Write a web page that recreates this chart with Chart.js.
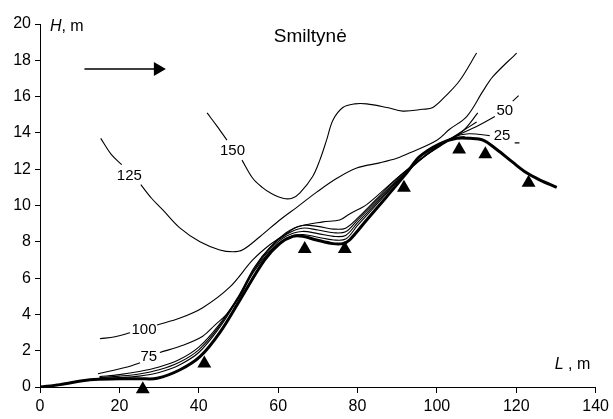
<!DOCTYPE html>
<html>
<head>
<meta charset="utf-8">
<script src="https://cdn.jsdelivr.net/npm/chart.js@4.4.1/dist/chart.umd.min.js"></script>
<style>
    body { margin: 0; background: #fff; }
    #wrap { width: 613px; height: 419px; }
</style>
</head>
<body>
<div id="wrap"><canvas id="duneChart"></canvas></div>
<script>
// Dune profile (thick line), L and H in metres
const profileL = [0, 5, 12.6, 20, 25.2, 29.5, 35.3, 40.3, 45.3, 50.4, 56.6, 60.4, 63.7, 66.2, 69.7, 73.8, 76.3, 78, 82.3, 87.4, 92.4, 95.7, 100.7, 105, 108.3, 111.6, 115, 119, 122.6, 126, 130.2];
const profileH = [0, 0.13, 0.4, 0.45, 0.46, 0.48, 0.95, 1.67, 3.0, 4.8, 7.0, 7.9, 8.3, 8.3, 8.1, 7.9, 7.9, 8.1, 9.2, 10.5, 11.8, 12.7, 13.4, 13.7, 13.7, 13.6, 13.1, 12.4, 11.8, 11.4, 11.0];

// Contour lines (null = break for the label)
const c150L = [42.1, 44.5, 47.1, 48.5, 50.9, 53.6, 56, 58, 61.2, 63.5, 65.5, 68.7, 70.5, 72.2, 73.8, 76.3, 79.3, 82.3, 87.4, 91.4, 96.4, 99, 102.5, 105.8, 110];
const c150H = [15.1, 14.4, 13.6, null, 12.5, 11.5, 11.0, 10.7, 10.4, 10.4, 10.7, 11.6, 12.5, 13.6, 14.7, 15.4, 15.6, 15.6, 15.4, 15.2, 15.3, 15.4, 16.1, 16.9, 18.4];

const c125L = [15.3, 18, 20.6, 22.5, 25.4, 28.1, 31, 35.3, 40.3, 45.3, 48.6, 51.1, 55.4, 60.4, 64.7, 69.8, 74.8, 79.8, 85.6, 89.9, 93.2, 100, 103.2, 107.5, 111.6, 114.1, 120.1];
const c125H = [13.7, 12.8, 12.25, null, 11.15, 10.4, 9.74, 8.75, 8.0, 7.55, 7.45, 7.56, 8.28, 9.2, 9.9, 10.75, 11.5, 12.07, 12.35, 12.6, 12.9, 13.6, 14.2, 14.9, 16.3, 17.1, 18.4];

const c100L = [15.1, 18.9, 22.7, 26, 29.5, 35.3, 41, 47.8, 53.6, 57.9, 61.7, 65, 71.3, 75.5, 78.1, 82.3, 88.1, 93.2, 98.2, 103.2, 107, 110.3];
const c100H = [2.66, 2.77, 2.99, null, 3.42, 3.8, 4.37, 5.5, 7.0, 7.84, 8.39, 8.83, 9.1, 9.2, 9.55, 10.05, 11.15, 12.1, 12.9, 13.6, 14.2, 15.1];

const c75L = [14.6, 18, 22, 25.2, 27.5, 30.2, 36, 41, 44, 47, 50.4, 54, 58, 62, 66, 70, 74, 77, 80, 85, 90, 95, 100, 105, 110];
const c75H = [0.73, 0.9, 1.1, 1.34, null, 1.9, 2.3, 2.8, 3.4, 4.0, 5.0, 6.5, 7.7, 8.5, 8.9, 8.85, 8.7, 8.75, 9.3, 10.4, 11.5, 12.4, 13.2, 13.9, 14.6];

const c50L = [15, 20, 25, 30, 35, 40, 45, 50, 54, 58, 62, 66, 70, 74, 77, 80, 85, 90, 95, 100, 105, 110, 114.6, 117, 119.1, 120.6];
const c50H = [0.57, 0.68, 0.85, 1.1, 1.5, 2.2, 3.4, 5.0, 6.6, 7.7, 8.4, 8.75, 8.65, 8.5, 8.55, 9.2, 10.3, 11.4, 12.4, 13.2, 13.85, 14.35, 14.9, null, 15.75, 16.05];

const c25L = [15, 20, 25, 30, 35, 40, 45, 50, 54, 58, 62, 66, 70, 74, 77, 80, 85, 90, 95, 100, 104, 108, 113.3, 116, 119.6, 120.8];
const c25H = [0.52, 0.6, 0.72, 0.95, 1.35, 2.05, 3.3, 4.95, 6.5, 7.6, 8.3, 8.57, 8.45, 8.3, 8.35, 9.05, 10.2, 11.35, 12.4, 13.25, 13.75, 13.95, 13.85, null, 13.45, 13.45];

const c10L = [15, 20, 25, 30, 35, 40, 45, 50, 54, 58, 62, 66, 70, 74, 77, 80, 85, 90, 95, 100, 104, 107];
const c10H = [0.48, 0.52, 0.6, 0.8, 1.2, 1.9, 3.2, 4.9, 6.4, 7.5, 8.2, 8.4, 8.25, 8.1, 8.15, 8.9, 10.1, 11.3, 12.35, 13.2, 13.7, 13.8];

// Survey marks (triangles)
const markL = [25.9, 41.4, 66.7, 76.8, 91.7, 105.6, 112.2, 123.1];
const markH = [-0.13, 1.3, 7.6, 7.6, 10.98, 13.09, 12.82, 11.26];

// Wind arrow
const arrowL = [11.2, 29.7];
const arrowH = [17.52, 17.52];

// Contour labels
const labelText = ["150", "125", "100", "75", "50", "25"];
const labelL = [48.5, 22.5, 26.2, 27.4, 117.1, 116.4];
const labelH = [12.99, 11.64, 3.14, 1.64, 15.22, 13.85];

const FONT = "'Liberation Sans', Arial, sans-serif";

function pts(L, H) {
    return L.map((x, i) => ({ x: x, y: H[i] }));
}

function contour(L, H, width) {
    return {
        data: pts(L, H),
        borderColor: "#000",
        borderWidth: width || 1.1,
        pointRadius: 0,
        fill: false,
        spanGaps: false,
        tension: 0.35
    };
}

// text drawn over the plot: title, axis names, contour labels
const textPlugin = {
    id: "duneText",
    afterDatasetsDraw(chart) {
        const ctx = chart.ctx;
        const xs = chart.scales.x, ys = chart.scales.y;
        ctx.save();
        ctx.fillStyle = "#000";
        ctx.textBaseline = "middle";

        ctx.font = "19px " + FONT;
        ctx.textAlign = "center";
        ctx.fillText("Smiltynė", xs.getPixelForValue(68.1), ys.getPixelForValue(19.3));

        ctx.font = "15px " + FONT;
        labelText.forEach((t, i) => {
            ctx.fillText(t, xs.getPixelForValue(labelL[i]), ys.getPixelForValue(labelH[i]));
        });

        // axis names, italic letter + unit
        ctx.textAlign = "left";
        let x0 = xs.getPixelForValue(2.5), y0 = ys.getPixelForValue(19.88);
        ctx.font = "italic 16px " + FONT;
        ctx.fillText("H", x0, y0);
        x0 += ctx.measureText("H").width;
        ctx.font = "16px " + FONT;
        ctx.fillText(", m", x0, y0);

        x0 = xs.getPixelForValue(129.7); y0 = ys.getPixelForValue(1.23);
        ctx.font = "italic 16px " + FONT;
        ctx.fillText("L", x0, y0);
        x0 += ctx.measureText("L").width;
        ctx.font = "16px " + FONT;
        ctx.fillText(" , m", x0, y0);
        ctx.restore();
    }
};

new Chart(document.getElementById("duneChart"), {
    type: "line",
    data: {
        datasets: [
            {
                data: pts(markL, markH),
                showLine: false,
                pointStyle: "triangle",
                pointRadius: 8,
                pointBackgroundColor: "#000",
                pointBorderColor: "#000",
                pointBorderWidth: 0,
                clip: false
            },
            {
                data: pts(arrowL, arrowH),
                borderColor: "#000",
                borderWidth: 1.3,
                pointStyle: "triangle",
                pointRadius: [0, 8],
                pointRotation: 90,
                pointBackgroundColor: "#000",
                pointBorderWidth: 0,
                clip: false
            },
            contour(profileL, profileH, 3),
            contour(c10L, c10H),
            contour(c25L, c25H),
            contour(c50L, c50H),
            contour(c75L, c75H),
            contour(c100L, c100H),
            contour(c125L, c125H),
            contour(c150L, c150H)
        ]
    },
    options: {
        responsive: true,
        maintainAspectRatio: false,
        animation: false,
        layout: { padding: { top: 24, right: 17, left: 0, bottom: 0 } },
        plugins: {
            legend: { display: false },
            tooltip: { enabled: false }
        },
        scales: {
            x: {
                type: "linear",
                min: 0,
                max: 140,
                ticks: { stepSize: 20, color: "#000", font: { size: 16, family: FONT }, padding: 4, maxRotation: 0 },
                grid: { drawOnChartArea: false, color: "#000", tickLength: 6 },
                border: { color: "#000", width: 1 },
                afterFit: s => { s.height = 32; }
            },
            y: {
                min: 0,
                max: 20,
                ticks: { stepSize: 2, color: "#000", font: { size: 16, family: FONT }, padding: 4 },
                grid: { drawOnChartArea: false, color: "#000", tickLength: 5 },
                border: { color: "#000", width: 1 },
                afterFit: s => { s.width = 40; }
            }
        }
    },
    plugins: [textPlugin]
});
</script>
</body>
</html>
